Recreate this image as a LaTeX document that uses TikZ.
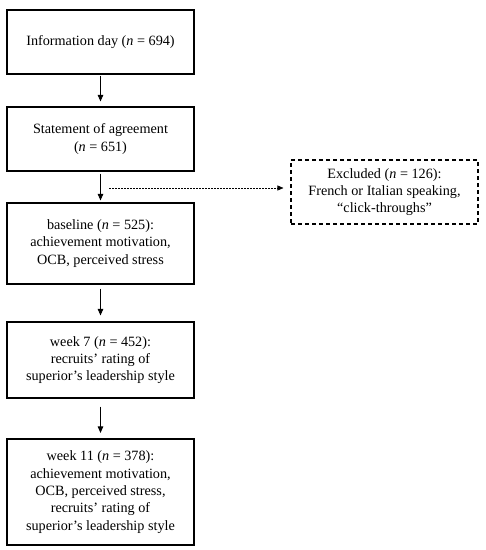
\documentclass[tikz,border=0pt]{standalone}
\usepackage{fontspec}
\setmainfont{Liberation Serif}
\usetikzlibrary{arrows.meta}
\begin{document}
\begin{tikzpicture}[x=1pt,y=-1pt,
  box/.style={draw,line width=1.1pt,align=center,font=\fontsize{14.2}{17.3}\selectfont,inner sep=0pt},
  arr/.style={-{Triangle[length=6.5pt,width=5.5pt]},line width=0.9pt},
  darr/.style={-{Triangle[length=6pt,width=5pt]},line width=0.6pt,dash pattern=on 1.5pt off 1.5pt}]
\useasboundingbox (0,0) rectangle (486,550);
\node[box,minimum width=187pt,minimum height=64pt] (b1) at (100.5,42) {Information day (\textit{n} = 694)};
\node[box,minimum width=187pt,minimum height=64pt] (b2) at (100.5,139) {Statement of agreement\\(\textit{n} = 651)};
\node[box,minimum width=187pt,minimum height=81pt] (b3) at (100.5,243.5) {baseline (\textit{n} = 525):\\achievement motivation,\\OCB, perceived stress};
\node[box,minimum width=187pt,minimum height=76pt] (b4) at (100.5,360) {week 7 (\textit{n} = 452):\\recruits’ rating of\\superior’s leadership style};
\node[box,minimum width=187pt,minimum height=106pt] (b5) at (100.5,492) {week 11 (\textit{n} = 378):\\achievement motivation,\\OCB, perceived stress,\\recruits’ rating of\\superior’s leadership style};
\node[box,dashed,dash pattern=on 4pt off 3pt,minimum width=187pt,minimum height=64pt] (ex) at (384.5,192) {Excluded (\textit{n} = 126):\\French or Italian speaking,\\“click-throughs”};
\draw[arr,shorten <=1pt,shorten >=5pt] (b1.south) -- (b2.north);
\draw[arr,shorten <=2pt,shorten >=2pt] (b2.south) -- (b3.north);
\draw[arr,shorten <=4pt,shorten >=6pt] (b3.south) -- (b4.north);
\draw[arr,shorten <=8pt,shorten >=5.5pt] (b4.south) -- (b5.north);
\coordinate (dstart) at (109,188);
\draw[darr,shorten >=7pt] (dstart) -- (ex.west |- dstart);
\end{tikzpicture}
\end{document}
